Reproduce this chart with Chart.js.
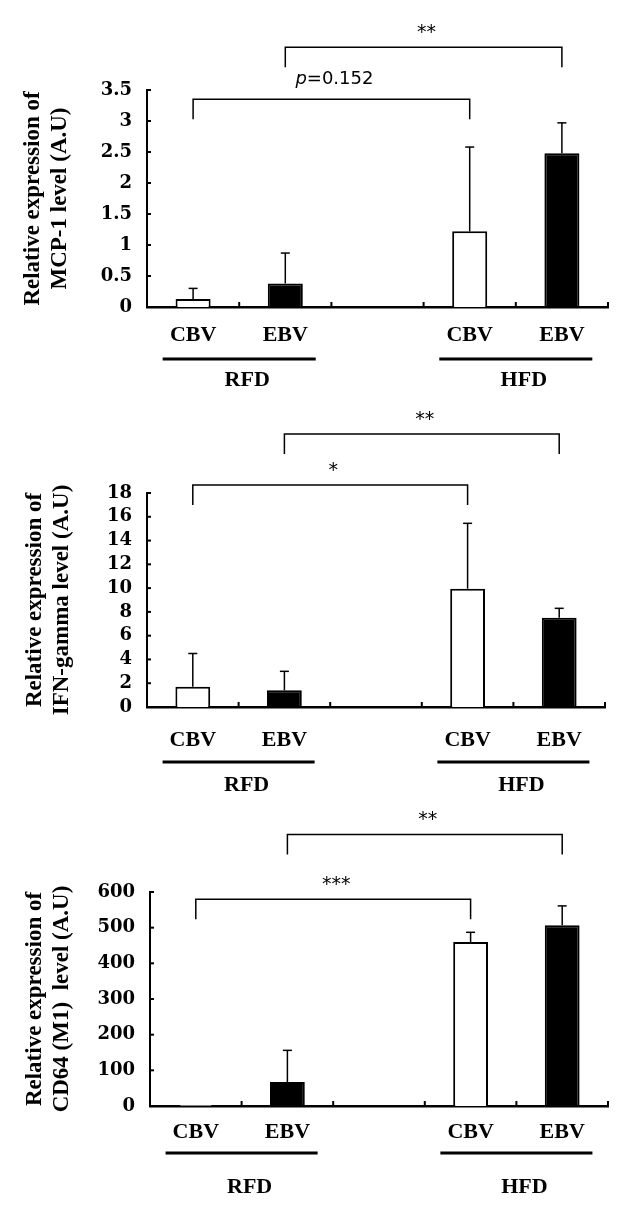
<!DOCTYPE html>
<html>
<head>
<meta charset="utf-8">
<script src="https://cdn.jsdelivr.net/npm/chart.js@4.4.0/dist/chart.umd.min.js"></script>
<style>
    html, body { margin: 0; padding: 0; background: #fff; }
    .panel { position: absolute; left: 0; width: 625px; }
</style>
</head>
<body>
<div class="panel" style="top:0;height:400px"><canvas id="mcpChart"></canvas></div>
<div class="panel" style="top:400px;height:400px"><canvas id="ifnChart"></canvas></div>
<div class="panel" style="top:800px;height:413px"><canvas id="cd64Chart"></canvas></div>
<script>
// === Data ===
const categories = ['CBV', 'EBV', '', 'CBV', 'EBV'];
const groups = ['RFD', 'HFD'];
const groupMembers = [[0, 1], [3, 4]];
const barColors = ['#ffffff', '#000000', '#ffffff', '#ffffff', '#000000'];

// MCP-1
const mcpMean = [0.13, 0.38, null, 1.22, 2.48];
const mcpSD = [0.17, 0.49, null, 1.36, 0.49];
const mcpTicks = [0, 0.5, 1, 1.5, 2, 2.5, 3, 3.5];
const mcpSig = [
    { pair: [0, 3], label: 'p=0.152', level: 3.35 },
    { pair: [1, 4], label: '**', level: 4.19 }
];

// IFN-gamma
const ifnMean = [1.7, 1.4, null, 9.95, 7.5];
const ifnSD = [2.8, 1.6, null, 5.5, 0.8];
const ifnTicks = [0, 2, 4, 6, 8, 10, 12, 14, 16, 18];
const ifnSig = [
    { pair: [0, 3], label: '*', level: 18.67 },
    { pair: [1, 4], label: '**', level: 22.96 }
];

// CD64 (M1)
const cdMean = [3, 67, null, 460, 507];
const cdSD = [0, 89, null, 27, 54];
const cdTicks = [0, 100, 200, 300, 400, 500, 600];
const cdSig = [
    { pair: [0, 3], label: '***', level: 580 },
    { pair: [1, 4], label: '**', level: 761 }
];

const serif = '"Liberation Serif", "Times New Roman", serif';

function line(ctx, x1, y1, x2, y2) {
    ctx.beginPath();
    ctx.moveTo(x1, y1);
    ctx.lineTo(x2, y2);
    ctx.stroke();
}

// axis ticks, error bars, brackets, group labels, y title
const decor = {
    id: 'panelDecor',
    afterDatasetsDraw(chart, args, p) {
        const { ctx, chartArea: a, scales: { x, y } } = chart;
        const meta = chart.getDatasetMeta(0);
        const half = (x.getPixelForValue(1) - x.getPixelForValue(0)) / 2;
        ctx.save();
        ctx.strokeStyle = '#000';
        ctx.fillStyle = '#000';

        // inward tick marks
        ctx.lineWidth = 2;
        p.ticks.forEach(v => {
            const py = y.getPixelForValue(v);
            line(ctx, a.left, py, a.left + 4, py);
        });
        categories.forEach((c, i) => {
            const px = x.getPixelForValue(i) + half;
            line(ctx, px, a.bottom, px, a.bottom - 5);
        });

        // error bars (upper only)
        ctx.lineWidth = 1.5;
        meta.data.forEach((bar, i) => {
            const m = p.mean[i], s = p.sd[i];
            if (m == null || !s) return;
            const top = y.getPixelForValue(m + s);
            line(ctx, bar.x, bar.y, bar.x, top);
            line(ctx, bar.x - 4.5, top, bar.x + 4.5, top);
        });

        // significance brackets
        p.sig.forEach(b => {
            const x1 = x.getPixelForValue(b.pair[0]);
            const x2 = x.getPixelForValue(b.pair[1]);
            const yb = y.getPixelForValue(b.level);
            ctx.lineWidth = 1.5;
            ctx.beginPath();
            ctx.moveTo(x1, yb + 20);
            ctx.lineTo(x1, yb);
            ctx.lineTo(x2, yb);
            ctx.lineTo(x2, yb + 20);
            ctx.stroke();
            const cx = (x1 + x2) / 2 + 3;
            ctx.textBaseline = 'alphabetic';
            if (b.label.startsWith('p=')) {
                const rest = b.label.slice(1);
                ctx.font = 'italic 18px "DejaVu Sans", sans-serif';
                const wp = ctx.measureText('p').width;
                ctx.font = '18px "DejaVu Sans", sans-serif';
                const wr = ctx.measureText(rest).width;
                const sx = cx - (wp + wr) / 2;
                ctx.textAlign = 'left';
                ctx.font = 'italic 18px "DejaVu Sans", sans-serif';
                ctx.fillText('p', sx, yb - 15);
                ctx.font = '18px "DejaVu Sans", sans-serif';
                ctx.fillText(rest, sx + wp, yb - 15);
            } else {
                ctx.textAlign = 'center';
                ctx.font = '19px "DejaVu Sans", sans-serif';
                ctx.fillText(b.label, cx, yb - 9.5);
            }
        });

        // group underline + label
        groupMembers.forEach((g, k) => {
            const xa = x.getPixelForValue(g[0]) - half * 0.66;
            const xb = x.getPixelForValue(g[g.length - 1]) + half * 0.66;
            ctx.lineWidth = 3;
            line(ctx, xa, a.bottom + p.lineGap, xb, a.bottom + p.lineGap);
            ctx.font = 'bold 22px ' + serif;
            ctx.textAlign = 'center';
            ctx.textBaseline = 'middle';
            ctx.fillText(groups[k], (xa + xb) / 2 + 8, a.bottom + p.groupGap);
        });

        // y axis title (two lines, rotated)
        ctx.font = 'bold 23px ' + serif;
        ctx.textAlign = 'center';
        ctx.textBaseline = 'middle';
        p.title.forEach((t, i) => {
            ctx.save();
            ctx.translate(p.titleX[i], (a.top + a.bottom) / 2);
            ctx.rotate(-Math.PI / 2);
            ctx.fillText(t, 0, 0);
            ctx.restore();
        });
        ctx.restore();
    }
};

function makePanel(id, p) {
    const el = document.getElementById(id);
    const H = el.parentNode.clientHeight;
    return new Chart(el, {
        type: 'bar',
        data: {
            labels: categories,
            datasets: [{
                data: p.mean,
                backgroundColor: barColors,
                borderColor: '#000',
                borderWidth: 2,
                barPercentage: 0.38,
                categoryPercentage: 1
            }]
        },
        options: {
            responsive: true,
            maintainAspectRatio: false,
            animation: false,
            layout: { padding: { top: p.area.top, right: 625 - p.area.right, left: 0, bottom: 0 } },
            plugins: {
                legend: { display: false },
                tooltip: { enabled: false },
                panelDecor: p
            },
            scales: {
                x: {
                    grid: { display: false, drawTicks: false },
                    border: { color: '#000', width: 2.5 },
                    ticks: {
                        color: '#000',
                        font: { family: serif, weight: 'bold', size: 22 },
                        padding: p.labelPad,
                        maxRotation: 0,
                        autoSkip: false
                    },
                    afterFit: s => { s.height = H - p.area.bottom; }
                },
                y: {
                    min: 0,
                    max: p.ticks[p.ticks.length - 1],
                    grid: { display: false, drawTicks: false },
                    border: { color: '#000', width: 2 },
                    ticks: {
                        color: '#000',
                        font: { family: '"DejaVu Serif", serif', weight: 'bold', size: 18 },
                        padding: 15,
                        autoSkip: false,
                        callback: v => String(v)
                    },
                    afterBuildTicks: s => { s.ticks = p.ticks.map(v => ({ value: v })); },
                    afterFit: s => { s.width = p.area.left; }
                }
            }
        },
        plugins: [decor]
    });
}

makePanel('mcpChart', {
    mean: mcpMean, sd: mcpSD, ticks: mcpTicks, sig: mcpSig,
    title: ['Relative expression of', 'MCP-1 level (A.U)'],
    titleX: [33, 60],
    area: { top: 90, bottom: 307, left: 147, right: 608 },
    labelPad: 15, lineGap: 52, groupGap: 73
});

makePanel('ifnChart', {
    mean: ifnMean, sd: ifnSD, ticks: ifnTicks, sig: ifnSig,
    title: ['Relative expression of', 'IFN-gamma level (A.U)'],
    titleX: [35, 62],
    area: { top: 93, bottom: 307, left: 147, right: 605 },
    labelPad: 20, lineGap: 55, groupGap: 78
});

makePanel('cd64Chart', {
    mean: cdMean, sd: cdSD, ticks: cdTicks, sig: cdSig,
    title: ['Relative expression of', 'CD64 (M1)  level (A.U)'],
    titleX: [35, 62],
    area: { top: 92, bottom: 306, left: 150, right: 608 },
    labelPad: 13, lineGap: 47, groupGap: 81
});
</script>
</body>
</html>
